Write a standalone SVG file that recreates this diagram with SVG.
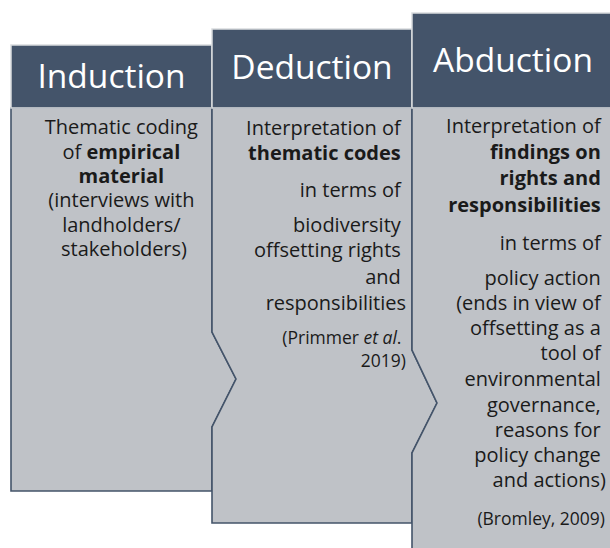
<svg xmlns="http://www.w3.org/2000/svg" width="610" height="548" viewBox="0 0 610 548">
  <style>
    .body { fill: #BFC2C7; stroke: #44546A; stroke-width: 1.6; stroke-linejoin: miter; }
    .head { fill: #44546A; stroke: #D9DBDE; stroke-width: 1.5; }
    .title { font-family: "Open Sans", "DejaVu Sans", sans-serif; font-size: 33.5px; fill: #FFFFFF; text-anchor: middle; }
    .txt { font-family: "Open Sans", "DejaVu Sans", sans-serif; font-size: 20px; fill: #1A1A1A; }
    .cite { font-size: 17.5px; }
    .mid { text-anchor: middle; }
    .end { text-anchor: end; }
    .b { font-weight: bold; }
    .i { font-style: italic; }
  </style>
  <rect width="610" height="548" fill="#FFFFFF"/>

  <!-- Induction -->
  <g id="induction">
    <path class="body" d="M11,108 H212 V332 L236,379 L212,427 V491 H11 Z"/>
    <rect class="head" x="11" y="45" width="201" height="63"/>
    <text class="title" x="111.5" y="88">Induction</text>
    <text class="txt mid">
      <tspan x="124" y="134">Thematic coding</tspan>
      <tspan x="124" y="159">of <tspan class="b">empirical</tspan></tspan>
      <tspan x="124" y="183" class="b">material</tspan>
      <tspan x="124" y="207">(interviews with</tspan>
      <tspan x="124" y="232">landholders/</tspan>
      <tspan x="124" y="256">stakeholders)</tspan>
    </text>
  </g>

  <!-- Deduction -->
  <g id="deduction">
    <path class="body" d="M212,108 H412 V350 L437,403 L412,453 V523 H212 V427 L236,379 L212,332 Z"/>
    <rect class="head" x="212" y="29" width="200" height="79"/>
    <text class="title" x="312" y="79">Deduction</text>
    <text class="txt end">
      <tspan x="406" y="135">Interpretation of</tspan>
      <tspan x="406" y="160" class="b">thematic codes</tspan>
      <tspan x="406" y="197">in terms of</tspan>
      <tspan x="406" y="232">biodiversity</tspan>
      <tspan x="406" y="257">offsetting rights</tspan>
      <tspan x="406" y="284">and</tspan>
      <tspan x="406" y="310">responsibilities</tspan>
    </text>
    <text class="txt cite end">
      <tspan x="406" y="344">(Primmer <tspan class="i">et al</tspan>.</tspan>
      <tspan x="406" y="367">2019)</tspan>
    </text>
  </g>

  <!-- Abduction -->
  <g id="abduction">
    <path class="body" d="M412,108 H622 V560 H412 V453 L437,403 L412,350 Z"/>
    <rect class="head" x="412" y="13" width="205" height="95"/>
    <text class="title" x="513" y="72">Abduction</text>
    <text class="txt end">
      <tspan x="606" y="133">Interpretation of</tspan>
      <tspan x="606" y="159" class="b">findings on</tspan>
      <tspan x="606" y="185" class="b">rights and</tspan>
      <tspan x="606" y="212" class="b">responsibilities</tspan>
      <tspan x="606" y="250">in terms of</tspan>
      <tspan x="606" y="285">policy action</tspan>
      <tspan x="606" y="310">(ends in view of</tspan>
      <tspan x="606" y="335">offsetting as a</tspan>
      <tspan x="606" y="360">tool of</tspan>
      <tspan x="606" y="386">environmental</tspan>
      <tspan x="606" y="412">governance,</tspan>
      <tspan x="606" y="437">reasons for</tspan>
      <tspan x="606" y="462">policy change</tspan>
      <tspan x="606" y="487">and actions)</tspan>
    </text>
    <text class="txt cite end" x="605" y="525">(Bromley, 2009)</text>
  </g>

  <!-- connectors: the chevron joins between the panels are part of the panel outlines -->
  <g id="connectors"/>
</svg>
